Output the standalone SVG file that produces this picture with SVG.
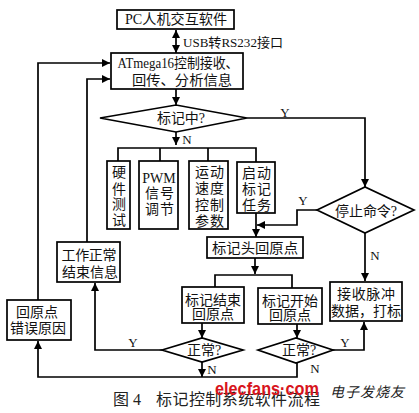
<svg xmlns="http://www.w3.org/2000/svg" width="419" height="413" viewBox="0 0 419 413">
<defs>
<style>
.box{fill:#fff;stroke:#000;stroke-width:1.7}
.ln{fill:none;stroke:#000;stroke-width:1.7}
.t{font-family:"Liberation Serif","Noto Sans CJK SC",serif;font-size:14px;fill:#111;text-anchor:middle;dominant-baseline:central}
.lb{font-family:"Liberation Serif","Noto Sans CJK SC",serif;font-size:13px;fill:#111;text-anchor:middle;dominant-baseline:central}
</style>
<marker id="ah" viewBox="0 0 10 10" refX="10" refY="5" markerWidth="8" markerHeight="8" markerUnits="userSpaceOnUse" orient="auto-start-reverse">
<path d="M0,0 L10,5 L0,10 z" fill="#000"/>
</marker>
</defs>
<rect width="419" height="413" fill="#fff"/>

<g id="connectors">
<line class="ln" x1="176" y1="30" x2="176" y2="53" marker-start="url(#ah)" marker-end="url(#ah)"/>
<line class="ln" x1="176" y1="89" x2="176" y2="105" marker-end="url(#ah)"/>
<polyline class="ln" points="247,118 365,118 365,187" marker-end="url(#ah)"/>
<line class="ln" x1="176" y1="132" x2="176" y2="145" marker-end="url(#ah)"/>
<polyline class="ln" points="118,161 118,148 256,148 256,162"/>
<line class="ln" x1="160" y1="148" x2="160" y2="161"/>
<line class="ln" x1="208" y1="148" x2="208" y2="161"/>
<line class="ln" x1="256" y1="213" x2="256" y2="237" marker-end="url(#ah)"/>
<polyline class="ln" points="317,210 297,210 297,225 257,225" marker-end="url(#ah)"/>
<line class="ln" x1="365" y1="233" x2="365" y2="281" marker-end="url(#ah)"/>
<line class="ln" x1="255" y1="258" x2="255" y2="274" marker-end="url(#ah)"/>
<polyline class="ln" points="215,287 215,275 292,275 292,288"/>
<line class="ln" x1="202" y1="323" x2="202" y2="338" marker-end="url(#ah)"/>
<line class="ln" x1="297" y1="324" x2="297" y2="338" marker-end="url(#ah)"/>
<polyline class="ln" points="333,350 364,350 364,322" marker-end="url(#ah)"/>
<polyline class="ln" points="162,350 95,350 95,283" marker-end="url(#ah)"/>
<line class="ln" x1="202" y1="361" x2="202" y2="377" marker-end="url(#ah)"/>
<polyline class="ln" points="297,363 297,377 38,377 38,341" marker-end="url(#ah)"/>
<polyline class="ln" points="38,300 38,63 110,63" marker-end="url(#ah)"/>
<polyline class="ln" points="87,242 87,79 110,79" marker-end="url(#ah)"/>
<text class="lb" x="233" y="42" textLength="100" lengthAdjust="spacingAndGlyphs">USB转RS232接口</text>
<text class="lb" x="285" y="112">Y</text>
<text class="lb" x="187" y="139">N</text>
<text class="lb" x="303" y="200">Y</text>
<text class="lb" x="375" y="255">N</text>
<text class="lb" x="345" y="342">Y</text>
<text class="lb" x="133" y="342">Y</text>
<text class="lb" x="212" y="369">N</text>
<text class="lb" x="315" y="368">N</text>
</g>

<g id="pc">
<rect class="box" x="117" y="10" width="117" height="19"/>
<text class="t" x="176" y="19.5" textLength="102" lengthAdjust="spacingAndGlyphs">PC人机交互软件</text>
</g>
<g id="atmega">
<rect class="box" x="111" y="53" width="132" height="36"/>
<text class="t" x="178" y="63" textLength="121" lengthAdjust="spacingAndGlyphs">ATmega16控制接收、</text>
<text class="t" x="182" y="80" textLength="100" lengthAdjust="spacingAndGlyphs">回传、分析信息</text>
</g>
<g id="marking">
<polygon class="box" points="100,118 176,105 247,118 176,132"/>
<text class="t" x="181" y="118" textLength="48" lengthAdjust="spacing">标记中?</text>
</g>
<g id="hwtest">
<rect class="box" x="107" y="161" width="23" height="68"/>
<text class="t" x="119" y="172">硬</text>
<text class="t" x="119" y="189">件</text>
<text class="t" x="119" y="204">测</text>
<text class="t" x="119" y="220">试</text>
</g>
<g id="pwm">
<rect class="box" x="139" y="161" width="39" height="68"/>
<text class="t" x="159" y="178" font-size="12">PWM</text>
<text class="t" x="152" y="193">信</text>
<text class="t" x="167" y="193">号</text>
<text class="t" x="152" y="209">调</text>
<text class="t" x="167" y="209">节</text>
</g>
<g id="speed">
<rect class="box" x="189" y="161" width="39" height="68"/>
<text class="t" x="202" y="172">运</text><text class="t" x="217" y="172">动</text>
<text class="t" x="202" y="188">速</text><text class="t" x="217" y="188">度</text>
<text class="t" x="202" y="205">控</text><text class="t" x="217" y="205">制</text>
<text class="t" x="202" y="221">参</text><text class="t" x="217" y="221">数</text>
</g>
<g id="start">
<rect class="box" x="237" y="162" width="38" height="51"/>
<text class="t" x="249" y="173">启</text><text class="t" x="264" y="173">动</text>
<text class="t" x="249" y="189">标</text><text class="t" x="264" y="189">记</text>
<text class="t" x="249" y="205">任</text><text class="t" x="264" y="205">务</text>
</g>
<g id="stop">
<polygon class="box" points="317,210 365,187 414,210 365,233"/>
<text class="t" x="366" y="211" textLength="62" lengthAdjust="spacing">停止命令?</text>
</g>
<g id="home">
<rect class="box" x="207" y="237" width="96" height="21"/>
<text class="t" x="255" y="248" textLength="86" lengthAdjust="spacingAndGlyphs">标记头回原点</text>
</g>
<g id="endhome">
<rect class="box" x="182" y="287" width="62" height="36"/>
<text class="t" x="213" y="300" textLength="56" lengthAdjust="spacingAndGlyphs">标记结束</text>
<text class="t" x="213" y="314">回原点</text>
</g>
<g id="starthome">
<rect class="box" x="258" y="288" width="64" height="36"/>
<text class="t" x="290" y="301" textLength="56" lengthAdjust="spacingAndGlyphs">标记开始</text>
<text class="t" x="290" y="315">回原点</text>
</g>
<g id="recv">
<rect class="box" x="330" y="282" width="72" height="39"/>
<text class="t" x="366" y="294" textLength="58" lengthAdjust="spacing">接收脉冲</text>
<text class="t" x="366" y="311">数据，打标</text>
</g>
<g id="ok1">
<polygon class="box" points="162,350 202,338 243,350 202,362"/>
<text class="t" x="204" y="350">正常?</text>
</g>
<g id="ok2">
<polygon class="box" points="258,350 296,338 333,350 296,363"/>
<text class="t" x="299" y="350">正常?</text>
</g>
<g id="workok">
<rect class="box" x="57" y="242" width="63" height="40"/>
<text class="t" x="89" y="255" textLength="55" lengthAdjust="spacing">工作正常</text>
<text class="t" x="90" y="272" textLength="56" lengthAdjust="spacing">结束信息</text>
</g>
<g id="err">
<rect class="box" x="7" y="300" width="64" height="40"/>
<text class="t" x="37" y="312">回原点</text>
<text class="t" x="38" y="328">错误原因</text>
</g>
<g id="caption">
<text x="113" y="405" font-family="Liberation Serif,'Noto Sans CJK SC',serif" font-size="16" fill="#222">图 4</text>
<text x="156" y="405" font-family="Liberation Serif,'Noto Sans CJK SC',serif" font-size="16" fill="#222" textLength="164" lengthAdjust="spacing">标记控制系统软件流程</text>
<text x="215" y="395" font-family="'Liberation Sans',sans-serif" font-size="19" font-weight="bold" fill="#d8141c" textLength="104" lengthAdjust="spacingAndGlyphs">elecfans·com</text>
<text x="330" y="397" font-family="'Noto Sans CJK SC',sans-serif" font-size="14" font-style="italic" fill="#222" textLength="74" lengthAdjust="spacing">电子发烧友</text>
</g>
</svg>
